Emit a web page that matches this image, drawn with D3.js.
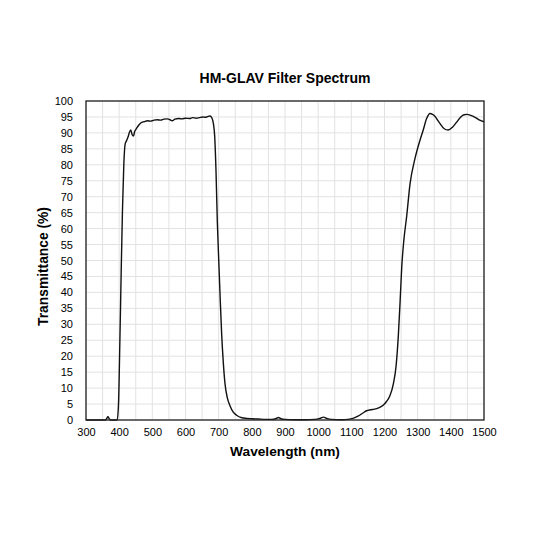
<!DOCTYPE html>
<html>
<head>
<meta charset="utf-8">
<script src="https://cdn.jsdelivr.net/npm/d3@7"></script>
<style>
  body { margin: 0; background: #fff; }
  text { font-family: "Liberation Sans", Arial, sans-serif; }
</style>
</head>
<body>
<svg id="chart" width="533" height="533"></svg>
<script>
// data
const wavelength = [300, 350, 358, 362, 366, 370, 374, 394, 398, 402, 406, 410, 414, 418, 422, 427, 431, 435, 439, 443, 447, 451, 456, 462, 468, 475, 485, 495, 505, 515, 525, 535, 545, 552, 560, 568, 580, 590, 600, 612, 622, 632, 642, 652, 660, 668, 674, 679, 684, 688, 692, 696, 701, 705, 709, 714, 719, 726, 734, 744, 754, 770, 784, 800, 820, 840, 860, 872, 880, 888, 900, 930, 960, 990, 1005, 1016, 1026, 1040, 1070, 1090, 1105, 1120, 1135, 1146, 1158, 1170, 1182, 1196, 1206, 1216, 1227, 1235, 1242, 1247, 1252, 1258, 1267, 1277, 1292, 1305, 1317, 1327, 1337, 1345, 1352, 1360, 1367, 1380, 1392, 1405, 1417, 1430, 1440, 1449, 1460, 1473, 1487, 1500];
const transmittance = [0, 0, 0, 0.4, 1.0, 0.4, 0, 0, 5, 24, 46, 66, 80, 86.5, 87.5, 88.8, 90.2, 90.9, 89.5, 89.0, 90.5, 91.2, 92.0, 92.8, 93.3, 93.5, 93.8, 93.7, 94.0, 94.1, 94.0, 94.3, 94.4, 94.2, 93.8, 94.3, 94.5, 94.4, 94.6, 94.5, 94.8, 94.6, 94.8, 95.0, 94.9, 95.2, 95.3, 94.8, 93, 89, 78, 62, 48, 37, 27, 18, 11.5, 7, 4.5, 2.5, 1.5, 0.7, 0.5, 0.4, 0.3, 0.2, 0.2, 0.4, 0.8, 0.4, 0.2, 0.1, 0.1, 0.2, 0.5, 0.9, 0.5, 0.2, 0.1, 0.2, 0.5, 1.2, 2.2, 2.9, 3.2, 3.4, 3.8, 4.6, 5.8, 7.5, 11.5, 17, 27, 37, 48, 56, 64, 74, 82, 87, 91, 94.5, 96.1, 95.8, 95.2, 94.0, 93.0, 91.3, 90.9, 91.8, 93.3, 95.0, 95.7, 95.8, 95.5, 94.9, 94.0, 93.5];
const xTicks = d3.range(300, 1501, 100);
const yTicks = d3.range(0, 101, 5);
const xGrid = d3.range(300, 1501, 50);

const title = "HM-GLAV Filter Spectrum";
const xTitle = "Wavelength (nm)";
const yTitle = "Transmittance (%)";

// layout
const margin = { top: 101, right: 49, bottom: 113, left: 86 };
const width = 533, height = 533;
const innerW = width - margin.left - margin.right;
const innerH = height - margin.top - margin.bottom;

const svg = d3.select("#chart");
const g = svg.append("g").attr("transform", `translate(${margin.left},${margin.top})`);

const x = d3.scaleLinear().domain([300, 1500]).range([0, innerW]);
const y = d3.scaleLinear().domain([0, 100]).range([innerH, 0]);

// grid
g.append("g").selectAll("line").data(xGrid).join("line")
  .attr("x1", d => x(d)).attr("x2", d => x(d))
  .attr("y1", 0).attr("y2", innerH)
  .attr("stroke", "#e2e2e2").attr("stroke-width", 1);
g.append("g").selectAll("line").data(yTicks).join("line")
  .attr("x1", 0).attr("x2", innerW)
  .attr("y1", d => y(d)).attr("y2", d => y(d))
  .attr("stroke", "#e2e2e2").attr("stroke-width", 1);

// axes (labels only, no tick marks)
const xAxis = g.append("g").attr("transform", `translate(0,${innerH})`)
  .call(d3.axisBottom(x).tickValues(xTicks).tickFormat(d3.format("d")).tickSize(0).tickPadding(8));
const yAxis = g.append("g")
  .call(d3.axisLeft(y).tickValues(yTicks).tickFormat(d3.format("d")).tickSize(0).tickPadding(13));
[xAxis, yAxis].forEach(a => {
  a.select(".domain").remove();
  a.selectAll("text").attr("font-size", 11).attr("fill", "#000")
    .attr("font-family", "'Liberation Sans', Arial, sans-serif");
});

// curve
const line = d3.line()
  .x((d, i) => x(wavelength[i]))
  .y(d => y(d))
  .curve(d3.curveMonotoneX);
g.append("path").datum(transmittance)
  .attr("d", line)
  .attr("fill", "none")
  .attr("stroke", "#111")
  .attr("stroke-width", 1.4)
  .attr("stroke-linejoin", "round");

// frame
g.append("rect").attr("width", innerW).attr("height", innerH)
  .attr("fill", "none").attr("stroke", "#222").attr("stroke-width", 1.3);

// titles
svg.append("text").attr("x", margin.left + innerW / 2).attr("y", 83)
  .attr("text-anchor", "middle").attr("font-size", 14).attr("font-weight", "bold")
  .text(title);
svg.append("text").attr("x", margin.left + innerW / 2).attr("y", 456)
  .attr("text-anchor", "middle").attr("font-size", 13.7).attr("font-weight", "bold")
  .text(xTitle);
svg.append("text")
  .attr("transform", `translate(48,${margin.top + innerH / 2 + 6}) rotate(-90)`)
  .attr("text-anchor", "middle").attr("font-size", 13.8).attr("font-weight", "bold")
  .text(yTitle);
</script>
</body>
</html>
